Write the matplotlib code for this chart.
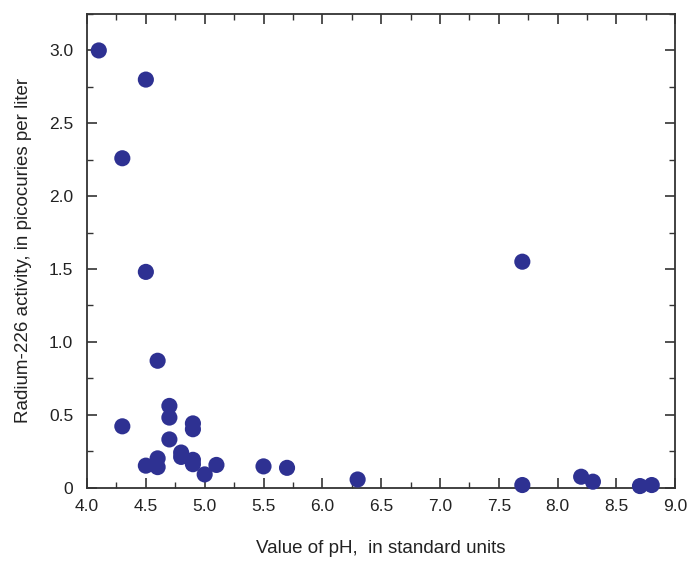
import matplotlib
matplotlib.use("Agg")
import matplotlib.pyplot as plt
from matplotlib.ticker import MultipleLocator, FixedLocator, FormatStrFormatter

plt.rcParams['font.family'] = ['Liberation Sans', 'DejaVu Sans']

# valores
ph = [4.1, 4.5, 4.3, 4.5, 4.6, 4.3, 4.5, 4.6, 4.6, 4.7, 4.7, 4.7, 4.8, 4.8,
      4.9, 4.9, 4.9, 4.9, 5.0, 5.1, 5.5, 5.7, 6.3, 7.7, 7.7, 8.2, 8.3, 8.7, 8.8]
radium = [3.0, 2.80, 2.26, 1.48, 0.87, 0.42, 0.15, 0.20, 0.14, 0.56, 0.48, 0.33, 0.24, 0.21,
          0.44, 0.40, 0.19, 0.16, 0.09, 0.155, 0.145, 0.135, 0.055, 1.55, 0.017, 0.074, 0.04, 0.01, 0.017]

y_ticks = [0, 0.5, 1.0, 1.5, 2.0, 2.5, 3.0]
y_labels = ["0", "0.5", "1.0", "1.5", "2.0", "2.5", "3.0"]

fig = plt.figure(figsize=(6.88, 5.61), dpi=100)
ax = fig.add_axes([0.1265, 0.131, 0.855, 0.844])

ax.scatter(ph, radium, s=135, color="#2E3192", edgecolors="none", zorder=3, clip_on=False)

ax.set_xlim(4.0, 9.0)
ax.set_ylim(0, 3.25)
ax.xaxis.set_major_locator(MultipleLocator(0.5))
ax.xaxis.set_minor_locator(MultipleLocator(0.25))
ax.xaxis.set_major_formatter(FormatStrFormatter("%.1f"))
ax.yaxis.set_major_locator(FixedLocator(y_ticks))
ax.set_yticklabels(y_labels)
ax.yaxis.set_minor_locator(MultipleLocator(0.25))

ax.tick_params(which="both", direction="in", top=True, right=True, colors="#333333",
               labelcolor="#222222", labelsize=12.5)
ax.tick_params(which="major", length=7, width=1.2)
ax.tick_params(which="minor", length=4, width=1.0)
ax.tick_params(axis="x", which="major", pad=8)
ax.tick_params(axis="y", which="major", pad=10)
for sp in ax.spines.values():
    sp.set_linewidth(1.3)
    sp.set_color("#333333")

ax.set_xlabel("Value of pH,  in standard units", fontsize=13.5, color="#222222", labelpad=19)
ax.set_ylabel("Radium-226 activity, in picocuries per liter", fontsize=13.5, color="#222222", labelpad=12)

fig.savefig("out.png", dpi=100)
